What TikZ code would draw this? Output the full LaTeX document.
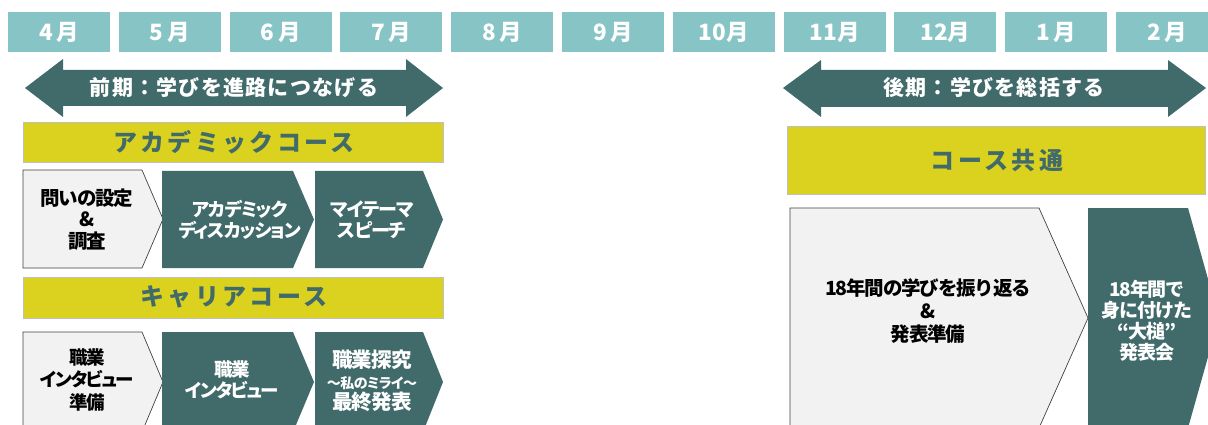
\documentclass[tikz,border=0pt]{standalone}
\usepackage{fontspec}
\setmainfont{Noto Sans CJK JP}
\definecolor{monthc}{HTML}{86C4C6}
\definecolor{darkc}{HTML}{416B6A}
\definecolor{yelc}{HTML}{DAD21E}
\definecolor{lightc}{HTML}{F2F2F2}
\definecolor{edgec}{HTML}{404040}
\newcommand\chevshape[6]{% x1,y1,x2,y2,tip,style
  \path[#6] (#1,#2) -- (#3,#2) -- (#5,{(#2+#4)/2}) -- (#3,#4) -- (#1,#4) -- cycle;}
\newcommand\paltfont{\addfontfeatures{RawFeature=+palt}}
\newcommand\tightfont[1]{\addfontfeatures{LetterSpace=#1}}
\tikzset{
  month/.style={fill=monthc, minimum width=102pt, minimum height=40pt, inner sep=0pt,
    text=white, font=\fontsize{22.5}{24}\selectfont\bfseries},
  arrowshape/.style={fill=darkc},
  arrowtext/.style={text=white, inner sep=0pt,
    font=\fontsize{21}{24}\selectfont\bfseries\addfontfeatures{LetterSpace=6}},
  banner/.style={fill=yelc, draw=gray!50, line width=0.6pt},
  bannertext/.style={text=darkc, inner sep=0pt,
    font=\fontsize{24}{28}\selectfont\bfseries\addfontfeatures{LetterSpace=14}},
  lightchev/.style={fill=lightc, draw=edgec, line width=0.7pt},
  darkchev/.style={fill=darkc},
  lighttext/.style={text=black, align=center, inner sep=0pt},
  darktext/.style={text=white, align=center, inner sep=0pt},
}
\begin{document}
\begin{tikzpicture}[x=1pt,y=-1pt]
\useasboundingbox (0,0) rectangle (1208,425);
\clip (0,0) rectangle (1208,425);
% months
\foreach \lab [count=\i from 0] in {4\,月,5\,月,6\,月,7\,月,8\,月,9\,月,10月,11月,12月,1\,月,2\,月}{
  \node[month] (m\i) at ({8+110.8*\i+51},32) {\lab};
}
% double arrows
\path[arrowshape] (25,88) -- (63,59) -- (63,70) -- (406,70) -- (406,59) -- (443,88)
  -- (406,117) -- (406,106) -- (63,106) -- (63,117) -- cycle;
\node[arrowtext] (zenki) at (234,88) {前期：学びを進路につなげる};
\path[arrowshape] (783,88) -- (821,60) -- (821,70) -- (1168,70) -- (1168,60) -- (1206,88)
  -- (1168,117) -- (1168,107) -- (821,107) -- (821,117) -- cycle;
\node[arrowtext] (kouki) at (994,88) {後期：学びを総括する};
% banners
\path[banner] (23,122) rectangle (443,162);
\node[bannertext] (aca) at (234,142) {アカデミックコース};
\path[banner] (23,277) rectangle (443,318);
\node[bannertext] (car) at (234,297) {キャリアコース};
\path[banner] (787,126) rectangle (1205,194);
\node[bannertext] (com) at (997,160) {コース共通};
% academic chevrons
\chevshape{23}{170}{142}{268}{163}{lightchev}
\chevshape{162}{171}{293}{268}{314}{darkchev}
\chevshape{315}{171}{423}{268}{443}{darkchev}
\node[lighttext, font=\fontsize{19.5}{22}\selectfont\bfseries\tightfont{-6}] (a1) at (87,220) {問いの設定\\[-1pt]\&\\調査};
\node[darktext, font=\fontsize{18.5}{21}\selectfont\bfseries\paltfont\tightfont{-6}] (a2) at (240,220) {アカデミック\\ディスカッション};
\node[darktext, font=\fontsize{19}{21}\selectfont\bfseries\paltfont\tightfont{-6}] (a3) at (372,220) {マイテーマ\\スピーチ};
% career chevrons
\chevshape{23}{332}{142}{432}{163}{lightchev}
\chevshape{162}{332}{293}{432}{314}{darkchev}
\chevshape{315}{332}{423}{432}{443}{darkchev}
\node[lighttext, font=\fontsize{18.5}{22.5}\selectfont\bfseries\paltfont\tightfont{-8}] (c1) at (87,380) {職業\\インタビュー\\準備};
\node[darktext, font=\fontsize{18.5}{21}\selectfont\bfseries\paltfont\tightfont{-8}] (c2) at (232,380) {職業\\インタビュー};
\node[darktext, font=\fontsize{20.5}{21}\selectfont\bfseries\tightfont{-4}] (c3) at (372,381) {職業探究\\{\fontsize{14}{17}\selectfont\paltfont ～私のミライ～}\\最終発表};
% right chevrons
\chevshape{790}{208}{1039}{428}{1088}{lightchev}
\chevshape{1088}{208}{1188}{428}{1219}{darkchev}
\node[lighttext, font=\fontsize{19.5}{23}\selectfont\bfseries\tightfont{-6}] (r1) at (928,311) {18年間の学びを振り返る\\\&\\発表準備};
\node[darktext, font=\fontsize{19}{21}\selectfont\bfseries\tightfont{-6}] (r2) at (1147,321) {18年間で\\身に付けた\\“大槌”\\発表会};
\end{tikzpicture}
\end{document}
